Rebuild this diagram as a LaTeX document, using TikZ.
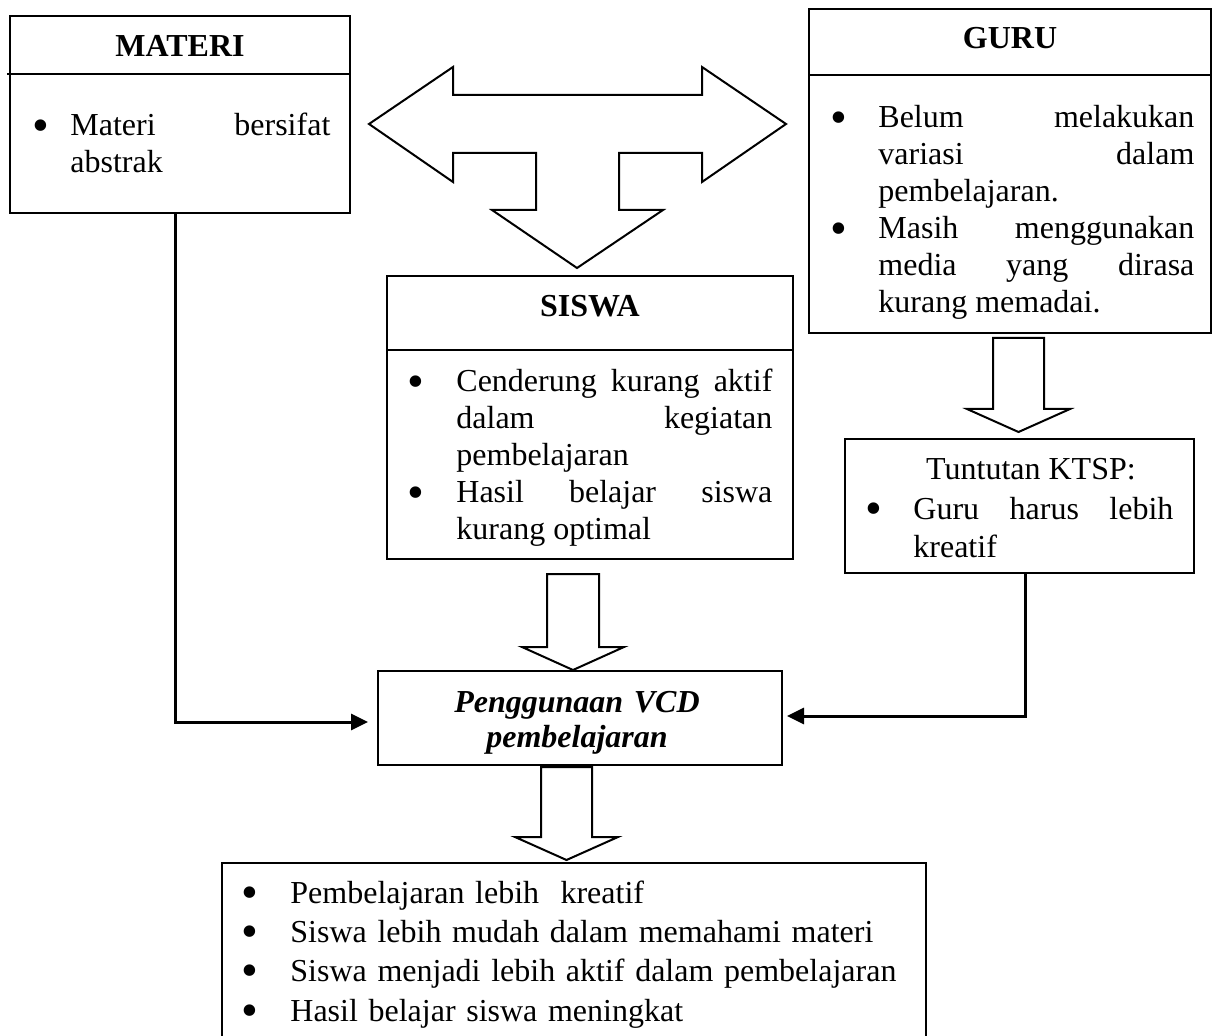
\documentclass[tikz,border=0pt]{standalone}
\usepackage{fontspec}
\usepackage{graphicx}
\setmainfont{Liberation Serif}
\usetikzlibrary{arrows.meta}
\tolerance=10000
\hbadness=10000
\hyphenpenalty=10000

\newcommand{\butir}[2][20pt]{\leavevmode\llap{\makebox[0pt]{\smash{\raisebox{-0.16em}{\scalebox{1.5}{\textbullet}}}}\hspace{#1}}#2}
% x, top, base, tip, shaft half width, head half width
\newcommand{\panahturun}[6]{%
  \draw[blok] (#1-#5,#2) -- (#1+#5,#2) -- (#1+#5,#3) -- (#1+#6,#3) -- (#1,#4)
    -- (#1-#6,#3) -- (#1-#5,#3) -- cycle;}

\begin{document}
\begin{tikzpicture}[x=0.5pt,y=-0.5pt,
	kotak/.style={draw, line width=1pt, inner sep=0pt, outer sep=0pt},
	judul/.style={font=\bfseries\fontsize{16}{18.5}\selectfont, inner sep=0pt, anchor=base},
	isi/.style={font=\fontsize{16}{18.5}\selectfont, inner sep=0pt, anchor=base west, align=justify},
	blok/.style={draw, line width=1pt, fill=white},
	garis/.style={line width=1.5pt, -{Triangle[length=8.5pt,width=8pt]}}]
		\useasboundingbox (0,0) rectangle (1213,1036);
		% kotak
		\node[kotak, minimum width=170pt, minimum height=98.5pt] (materi) at (180,114.5) {};
		\node[kotak, minimum width=201pt, minimum height=162pt] (guru) at (1010,171) {};
		\node[kotak, minimum width=203pt, minimum height=141.5pt] (siswa) at (590,417.5) {};
		\node[kotak, minimum width=174.5pt, minimum height=67pt] (ktsp) at (1019.5,506) {};
		\node[kotak, minimum width=202pt, minimum height=47pt] (vcd) at (580,718) {};
		\node[kotak, minimum width=352pt, minimum height=93.5pt] (hasil) at (574,956.5) {};
		\draw[line width=1pt] (7,74) -- (materi.east |- 0,74);
		\draw[line width=1pt] (guru.west |- 0,75) -- (guru.east |- 0,75);
		\draw[line width=1pt] (siswa.west |- 0,350) -- (siswa.east |- 0,350);
		% teks
		\node[judul] (materiJ) at (180,57) {MATERI};
		\node[isi, text width=130pt] (materiI) at (70,136) {\butir[15pt]{Materi bersifat\linebreak abstrak}};
		\node[judul] (guruJ) at (1010,49) {GURU};
		\node[isi, text width=158pt] (guruI) at (878,128) {\butir{Belum melakukan\linebreak variasi dalam\linebreak pembelajaran.}\par
			\butir{Masih menggunakan\linebreak media yang dirasa\linebreak kurang memadai.}};
		\node[judul] (siswaJ) at (590,317) {SISWA};
		\node[isi, text width=158pt] (siswaI) at (456,392) {\butir[20.5pt]{Cenderung kurang aktif\linebreak dalam kegiatan\linebreak pembelajaran}\par
			\butir[20.5pt]{Hasil belajar siswa\linebreak kurang optimal}};
		\node[judul, font=\fontsize{16}{18.5}\selectfont] (ktspJ) at (1031,480) {Tuntutan KTSP:};
		\node[isi, text width=130pt, font=\fontsize{16}{19}\selectfont] (ktspI) at (913,519) {\butir{Guru harus lebih\linebreak kreatif}};
		\node[judul, text width=200pt, align=center, font=\bfseries\itshape\fontsize{16}{17.8}\selectfont] (vcdJ) at (577,712) {Penggunaan VCD\\pembelajaran};
		\node[isi, text width=310pt, align=left, font=\fontsize{16}{19.7}\selectfont] (hasilI) at (290,903) {\butir[20.5pt]{Pembelajaran lebih\ \ kreatif}\par
			\butir[20.5pt]{Siswa lebih mudah dalam memahami materi}\par
			\butir[20.5pt]{Siswa menjadi lebih aktif dalam pembelajaran}\par
			\butir[20.5pt]{Hasil belajar siswa meningkat}};
		% panah blok
		\draw[blok] (369,124) -- (453,67) -- (453,95) -- (702,95) -- (702,67) -- (786,124)
			-- (702,182) -- (702,153) -- (619,153) -- (619,210) -- (663,210) -- (577,268)
			-- (492,210) -- (536,210) -- (536,153) -- (453,153) -- (453,182) -- cycle;
		\panahturun{573}{574}{647}{670}{26}{51}
		\panahturun{566.5}{767}{837}{860}{25.5}{51.5}
		\panahturun{1018.5}{338}{409}{432}{25.5}{51.5}
		% penghubung
		\draw[garis, shorten >=5pt] ([xshift=-2.5pt]materi.south) |- ([yshift=-2pt]vcd.west);
		\draw[garis, shorten >=2.5pt] ([xshift=3pt]ktsp.south) |- ([yshift=1pt]vcd.east);
	\end{tikzpicture}
\end{document}
